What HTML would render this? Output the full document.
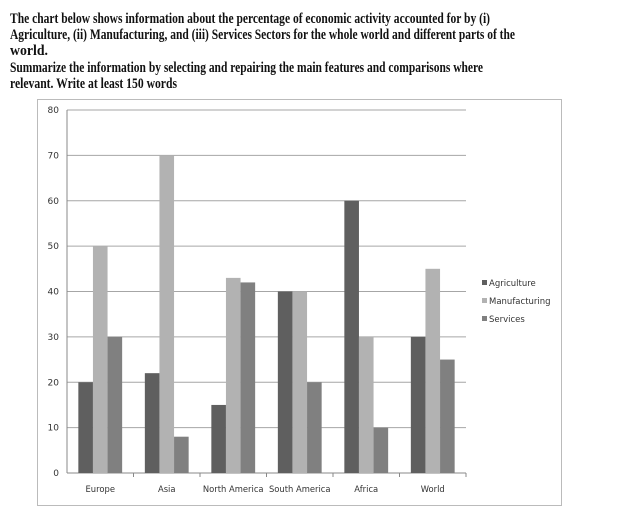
<!DOCTYPE html>
<html><head><meta charset="utf-8"><style>
html,body{margin:0;padding:0;background:#fff;width:640px;height:525px;overflow:hidden}
svg{display:block}
</style></head><body>
<svg width="640" height="525" xmlns="http://www.w3.org/2000/svg">
<g font-family="Liberation Serif, serif" font-weight="bold" font-size="15" fill="#111">
<text x="10" y="23" textLength="480" lengthAdjust="spacingAndGlyphs">The chart below shows information about the percentage of economic activity accounted for by (i)</text>
<text x="10" y="39" textLength="505" lengthAdjust="spacingAndGlyphs">Agriculture, (ii) Manufacturing, and (iii) Services Sectors for the whole world and different parts of the</text>
<text x="10" y="55" textLength="38" lengthAdjust="spacingAndGlyphs">world.</text>
<text x="10" y="72" textLength="473" lengthAdjust="spacingAndGlyphs">Summarize the information by selecting and repairing the main features and comparisons where</text>
<text x="10" y="88" textLength="167" lengthAdjust="spacingAndGlyphs">relevant. Write at least 150 words</text>
</g>
<rect x="37.5" y="99.5" width="524" height="406" fill="#fff" stroke="#bbb"/>
<g id="chart"></g>
</svg>
<script>
const categories = ["Europe","Asia","North America","South America","Africa","World"];
const seriesNames = ["Agriculture","Manufacturing","Services"];
const agriculture = [20,22,15,40,60,30];
const manufacturing = [50,70,43,40,30,45];
const services = [30,8,42,20,10,25];
const yTicks = [0,10,20,30,40,50,60,70,80];
const colors = ["#5f5f5f","#b2b2b2","#808080"];
const NS="http://www.w3.org/2000/svg";
const g=document.getElementById('chart');
const X0=67,X1=466,Y0=473,Y1=110,YMAX=80;
const y=v=>Y0-(v/YMAX)*(Y0-Y1);
const cw=(X1-X0)/categories.length;
function mk(t,a){const e=document.createElementNS(NS,t);for(const k in a)e.setAttribute(k,a[k]);g.appendChild(e);return e;}
yTicks.forEach(t=>{
  if(t>0){const l=mk('line',{x1:X0,x2:X1,y1:y(t),y2:y(t),stroke:'#a6a6a6','stroke-width':1});
  
  }
  const tx=mk('text',{x:59,y:y(t)+3,'text-anchor':'end','font-size':9,'font-family':'DejaVu Sans, sans-serif',fill:'#333'});
  tx.textContent=t;
  
  
});
const ax=mk('line',{x1:X0,x2:X0,y1:Y1,y2:Y0,stroke:'#888'});


const bx=mk('line',{x1:X0,x2:X1,y1:Y0,y2:Y0,stroke:'#888'});


const series=[agriculture,manufacturing,services];
const bw=14.6;
categories.forEach((c,i)=>{
  const cx=X0+cw*(i+0.5);
  const tk=mk('line',{x1:X0+cw*(i+1),x2:X0+cw*(i+1),y1:Y0,y2:Y0+4,stroke:'#888'});
  
  
  series.forEach((s,j)=>{
    const x=cx-1.5*bw+j*bw;
    const r=mk('rect',{x:x,y:y(s[i]),width:bw,height:Y0-y(s[i]),fill:colors[j]});
    
    
  });
  const t=mk('text',{x:cx,y:Y0+19,'text-anchor':'middle','font-size':8.4,'font-family':'DejaVu Sans, sans-serif',fill:'#333'});
  t.textContent=c;
  
  
});
seriesNames.forEach((n,j)=>{
  const ly=284+j*18;
  const r=mk('rect',{x:482,y:ly-4,width:5,height:5,fill:colors[j]});
  
  
  const t=mk('text',{x:489,y:ly+2,'font-size':8.5,'font-family':'DejaVu Sans, sans-serif',fill:'#333'});
  t.textContent=n;
  
  
});
</script>
</body></html>
